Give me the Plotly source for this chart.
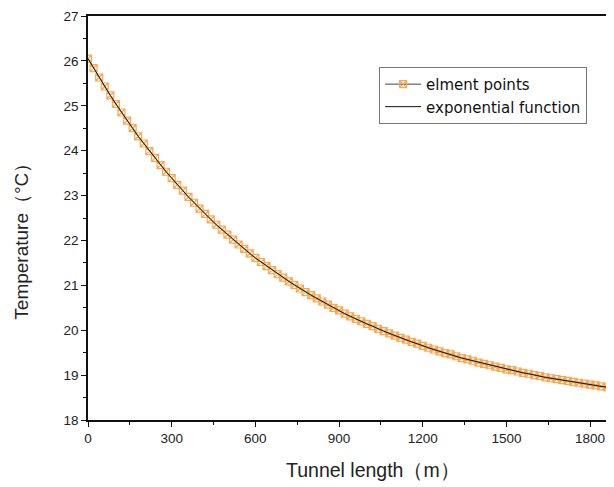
import plotly.graph_objects as go

tunnel_length_m = [0, 20, 40, 60, 80, 100, 120, 140, 160, 180, 200, 220, 240, 260, 280, 300,
                   320, 340, 360, 380, 400, 420, 440, 460, 480, 500, 520, 540, 560, 580, 600,
                   620, 640, 660, 680, 700, 720, 740, 760, 780, 800, 820, 840, 860, 880, 900,
                   920, 940, 960, 980, 1000, 1020, 1040, 1060, 1080, 1100, 1120, 1140, 1160,
                   1180, 1200, 1220, 1240, 1260, 1280, 1300, 1320, 1340, 1360, 1380, 1400,
                   1420, 1440, 1460, 1480, 1500, 1520, 1540, 1560, 1580, 1600, 1620, 1640,
                   1660, 1680, 1700, 1720, 1740, 1760, 1780, 1800, 1820, 1840, 1860]

element_temp_c = [26.05, 25.84, 25.63, 25.43, 25.23, 25.04, 24.85, 24.67, 24.50, 24.32, 24.16,
                  23.99, 23.84, 23.68, 23.53, 23.39, 23.24, 23.11, 22.97, 22.84, 22.71, 22.59,
                  22.47, 22.35, 22.24, 22.13, 22.02, 21.91, 21.81, 21.71, 21.61, 21.52, 21.43,
                  21.34, 21.25, 21.17, 21.09, 21.01, 20.93, 20.85, 20.78, 20.71, 20.64, 20.57,
                  20.50, 20.44, 20.37, 20.31, 20.25, 20.20, 20.14, 20.09, 20.03, 19.98, 19.93,
                  19.88, 19.83, 19.79, 19.74, 19.70, 19.65, 19.61, 19.57, 19.53, 19.49, 19.46,
                  19.42, 19.38, 19.35, 19.32, 19.28, 19.25, 19.22, 19.19, 19.16, 19.13, 19.11,
                  19.08, 19.05, 19.03, 19.00, 18.98, 18.95, 18.93, 18.91, 18.89, 18.87, 18.85,
                  18.83, 18.81, 18.79, 18.77, 18.75, 18.73]

exp_fit_temp_c = list(element_temp_c)

x_ticks = [0, 300, 600, 900, 1200, 1500, 1800]
y_ticks = [18, 19, 20, 21, 22, 23, 24, 25, 26, 27]

FONT = "Liberation Sans, Arial, sans-serif"

fig = go.Figure()
fig.add_trace(go.Scatter(
    x=tunnel_length_m, y=element_temp_c, mode="lines+markers", name="elment points",
    line=dict(color="#444444", width=1),
    marker=dict(symbol="square-x-open", size=7, color="#F6A853", line=dict(width=1.2, color="#F6A853")),
))
fig.add_trace(go.Scatter(
    x=tunnel_length_m, y=exp_fit_temp_c, mode="lines", name="exponential function",
    line=dict(color="#111111", width=1),
))

axis_font = dict(family=FONT, size=13.5, color="#222222")

fig.update_layout(
    width=598, height=479,
    margin=dict(l=80, r=0, t=8, b=67, autoexpand=False),
    paper_bgcolor="white", plot_bgcolor="white",
    font=axis_font,
    showlegend=True,
    legend=dict(
        x=0.562, y=0.874, xanchor="left", yanchor="top",
        bordercolor="#777777", borderwidth=1, bgcolor="white",
        font=dict(family="DejaVu Sans, sans-serif", size=15, color="#111111"),
        tracegroupgap=0, itemwidth=36,
    ),
    xaxis=dict(
        range=[0, 1857], tickvals=x_ticks, ticks="outside", ticklen=5, tickwidth=1.2,
        tickcolor="#111", showline=True, linecolor="#111", linewidth=1.5, mirror=True,
        showgrid=False, zeroline=False, tickfont=axis_font, automargin=False,
        minor=dict(dtick=150, tick0=0, ticks="outside", ticklen=3, tickcolor="#111", showgrid=False),
    ),
    yaxis=dict(
        range=[18, 27], tickvals=y_ticks, ticks="outside", ticklen=5, tickwidth=1.2,
        tickcolor="#111", showline=True, linecolor="#111", linewidth=1.5, mirror=False,
        showgrid=False, zeroline=False, tickfont=axis_font, automargin=False,
        minor=dict(dtick=0.5, tick0=18, ticks="outside", ticklen=3, tickcolor="#111", showgrid=False),
    ),
    annotations=[
        dict(text="Tunnel length（m）", xref="paper", yref="paper", x=0.55, y=-0.124,
             xanchor="center", yanchor="middle", showarrow=False,
             font=dict(family=FONT, size=19.5, color="#222")),
        dict(text="Temperature（°C）", xref="paper", yref="paper", x=-0.128, y=0.453,
             xanchor="center", yanchor="middle", textangle=-90, showarrow=False,
             font=dict(family=FONT, size=19, color="#222")),
    ],
)

fig.write_html("out.html")
